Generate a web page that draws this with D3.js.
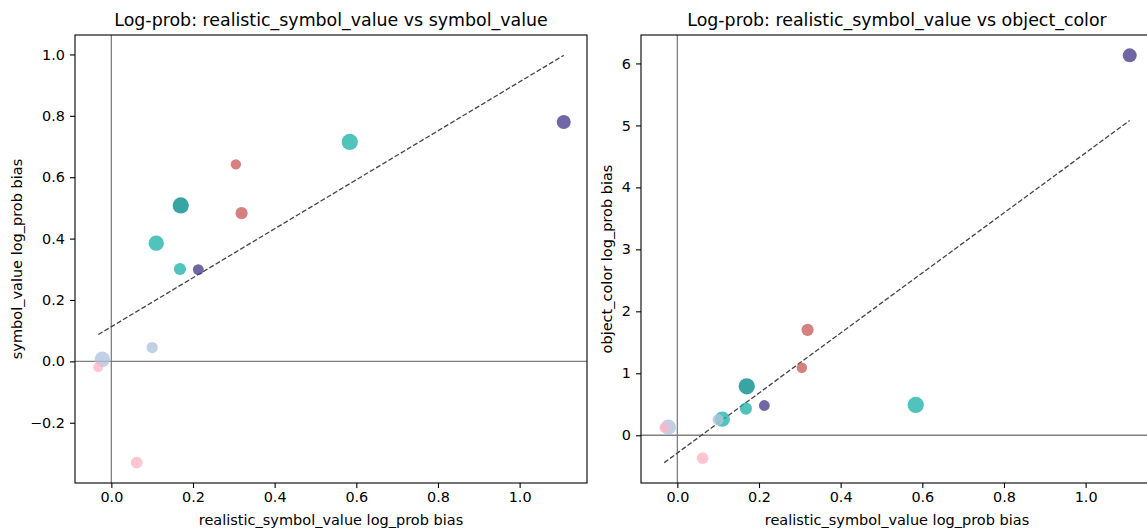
<!DOCTYPE html>
<html>
<head>
<meta charset="utf-8">
<script src="https://cdn.jsdelivr.net/npm/d3@7"></script>
<style>
  body { margin: 0; background: #fff; }
  svg { display: block; font-family: "DejaVu Sans", sans-serif; }
</style>
</head>
<body>
<div id="chart"></div>
<script>
// realistic_symbol_value bias (shared x) for each point
var realisticBias = [1.108, 0.584, 0.305, 0.319, 0.170, 0.110, 0.168, 0.213, 0.100, -0.022, -0.032, 0.062];
// symbol_value bias (left panel y)
var symbolBias = [0.780, 0.715, 0.642, 0.483, 0.508, 0.385, 0.301, 0.299, 0.045, 0.007, -0.019, -0.330];
// object_color bias (right panel y)
var colorBias = [6.13, 0.49, 1.09, 1.70, 0.79, 0.26, 0.43, 0.48, 0.25, 0.13, 0.12, -0.37];
// marker size weight
var pointWeight = [100, 135, 55, 75, 135, 120, 75, 60, 65, 120, 50, 70];
// group colour of each point
var pointGroup = ["darkslateblue", "lightseagreen", "indianred", "indianred", "darkcyan", "lightseagreen",
                  "lightseagreen", "darkslateblue", "lightsteelblue", "lightsteelblue", "lightpink", "lightpink"];

var panels = [
  {title: "Log-prob: realistic_symbol_value vs symbol_value", ylab: "symbol_value log_prob bias", ys: symbolBias, left: 75, fmt: d3.format(".1f"), nt: 6, labOff: 53},
  {title: "Log-prob: realistic_symbol_value vs object_color", ylab: "object_color log_prob bias", ys: colorBias, left: 641, fmt: d3.format("d"), nt: 7, labOff: 29}
];

var W = 1147, H = 531;
var plotTop = 35, plotBottom = 483, pw = 512;

var svg = d3.select("#chart").append("svg").attr("width", W).attr("height", H);

// radius in px from matplotlib-ish s value (pt^2)
var rScale = d3.scaleSqrt().domain([0, 100]).range([0, 7]);

function fitLine(xs, ys) {
  var mx = d3.mean(xs), my = d3.mean(ys);
  var sxy = d3.sum(xs, function(x, i) { return (x - mx) * (ys[i] - my); });
  var sxx = d3.sum(xs, function(x) { return (x - mx) * (x - mx); });
  var b = sxy / sxx, a = my - b * mx;
  var x0 = d3.min(xs), x1 = d3.max(xs);
  return [[x0, a + b * x0], [x1, a + b * x1]];
}

function pad(ext) {
  var m = (ext[1] - ext[0]) * 0.05;
  return [ext[0] - m, ext[1] + m];
}

panels.forEach(function(p) {
  var fit = fitLine(realisticBias, p.ys);
  var xExt = d3.extent(realisticBias);
  var yExt = d3.extent(p.ys.concat([fit[0][1], fit[1][1]]));

  var x = d3.scaleLinear().domain(pad(xExt)).range([p.left, p.left + pw]);
  var y = d3.scaleLinear().domain(pad(yExt)).range([plotBottom, plotTop]);

  var g = svg.append("g");

  // zero reference lines
  g.append("line").attr("x1", p.left).attr("x2", p.left + pw)
    .attr("y1", y(0)).attr("y2", y(0))
    .attr("stroke", "#808080").attr("stroke-width", 1.3);
  g.append("line").attr("x1", x(0)).attr("x2", x(0))
    .attr("y1", plotTop).attr("y2", plotBottom)
    .attr("stroke", "#808080").attr("stroke-width", 1.3);

  // regression line
  g.append("line")
    .attr("x1", x(fit[0][0])).attr("y1", y(fit[0][1]))
    .attr("x2", x(fit[1][0])).attr("y2", y(fit[1][1]))
    .attr("stroke", "#444").attr("stroke-width", 1.3)
    .attr("stroke-dasharray", "5,2.2");

  g.selectAll(".pt").data(realisticBias).enter().append("circle")
    .attr("class", "pt")
    .attr("cx", function(d) { return x(d); })
    .attr("cy", function(d, i) { return y(p.ys[i]); })
    .attr("r", function(d, i) { return rScale(pointWeight[i]); })
    .attr("fill", function(d, i) { return pointGroup[i]; })
    .attr("fill-opacity", 0.78);

  // axes
  var xa = g.append("g").attr("transform", "translate(0," + plotBottom + ")")
    .call(d3.axisBottom(x).ticks(6).tickFormat(d3.format(".1f")).tickSizeOuter(0).tickSize(5).tickPadding(4));
  var ya = g.append("g").attr("transform", "translate(" + p.left + ",0)")
    .call(d3.axisLeft(y).ticks(p.nt).tickFormat(p.fmt).tickSizeOuter(0).tickSize(5).tickPadding(5));
  [xa, ya].forEach(function(a) {
    a.select(".domain").remove();
    a.attr("font-size", 14.4).attr("font-family", "DejaVu Sans");
    a.selectAll("text").attr("fill", "#000");
    a.selectAll("line").attr("stroke", "#000").attr("stroke-width", 1.1);
  });

  // frame
  g.append("rect").attr("x", p.left).attr("y", plotTop).attr("width", pw).attr("height", plotBottom - plotTop)
    .attr("fill", "none").attr("stroke", "#000").attr("stroke-width", 1.1);

  g.append("text").attr("x", p.left + pw / 2).attr("y", 26)
    .attr("text-anchor", "middle").attr("font-size", 17.4).text(p.title);
  g.append("text").attr("x", p.left + pw / 2).attr("y", 525)
    .attr("text-anchor", "middle").attr("font-size", 14.5).text("realistic_symbol_value log_prob bias");
  g.append("text")
    .attr("transform", "translate(" + (p.left - p.labOff) + "," + ((plotTop + plotBottom) / 2) + ") rotate(-90)")
    .attr("text-anchor", "middle").attr("font-size", 14.5).text(p.ylab);
});
</script>
</body>
</html>
